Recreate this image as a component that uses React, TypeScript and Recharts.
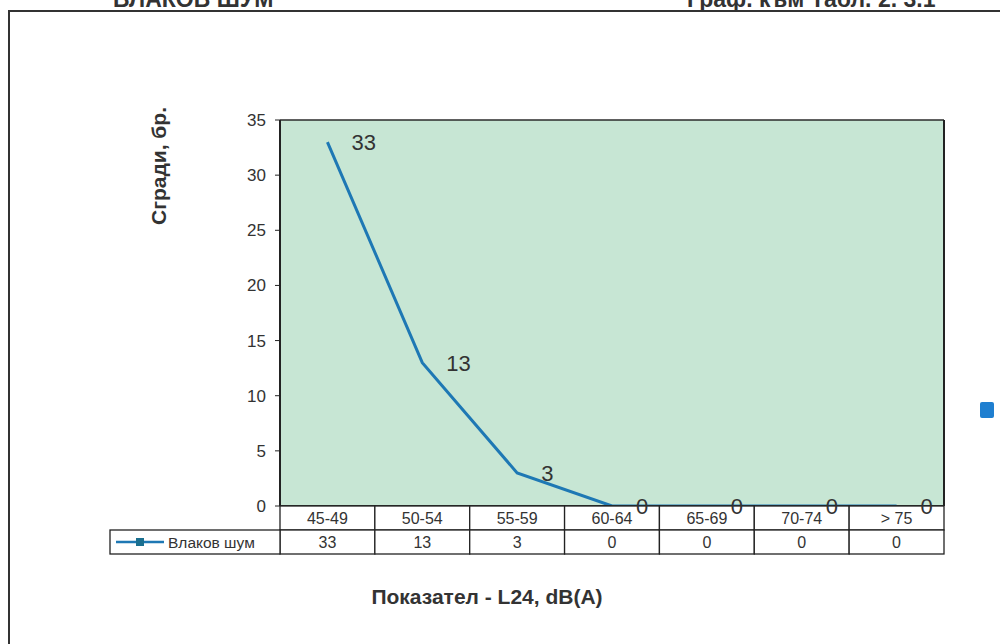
import React from "react";
import {
  LineChart,
  Line,
  XAxis,
  YAxis,
  CartesianGrid,
  LabelList,
} from "recharts";

const categories = ["45-49", "50-54", "55-59", "60-64", "65-69", "70-74", "> 75"];
const trainNoise = [33, 13, 3, 0, 0, 0, 0];
const yTicks = [0, 5, 10, 15, 20, 25, 30, 35];
const seriesName = "Влаков шум";
const yTitle = "Сгради, бр.";
const xTitle = "Показател - L24, dB(A)";
const headerLeft = "ВЛАКОВ ШУМ";
const headerRight = "Граф. към Табл. 2. 3.1";

const data = categories.map((c, i) => ({ cat: c, v: trainNoise[i] }));

const W = 1000;
const H = 644;
const PLOT_LEFT = 280;
const PLOT_RIGHT = 944;
const PLOT_TOP = 120;
const PLOT_BOTTOM = 506;
const Y_AXIS_W = 40;
const X_AXIS_H = 48;
const CELL_W = (PLOT_RIGHT - PLOT_LEFT) / categories.length;
const ROW_H = 24;
const LEGEND_LEFT = 110;
const FONT = "'Liberation Sans', Arial, sans-serif";
const LINE_COLOR = "#1e78b4";
const GRID = "#2b2b2b";
const TXT = "#333";

const TableTick = (props: any) => {
  const { x, y, payload, index } = props;
  const left = x - CELL_W / 2;
  const i = typeof index === "number" ? index : categories.indexOf(payload.value);
  return (
    <g>
      <rect x={left} y={y} width={CELL_W} height={ROW_H} fill="#fff" stroke="#222" strokeWidth={1.3} />
      <rect x={left} y={y + ROW_H} width={CELL_W} height={ROW_H} fill="#fff" stroke="#222" strokeWidth={1.3} />
      <text x={x} y={y + ROW_H / 2} dy="0.36em" textAnchor="middle" fontSize={16} fill={TXT} fontFamily={FONT}>
        {payload.value}
      </text>
      <text x={x} y={y + ROW_H * 1.5} dy="0.36em" textAnchor="middle" fontSize={16} fill={TXT} fontFamily={FONT}>
        {trainNoise[i]}
      </text>
      {i === 0 && (
        <g>
          <rect
            x={LEGEND_LEFT}
            y={y + ROW_H}
            width={left - LEGEND_LEFT}
            height={ROW_H}
            fill="#fff"
            stroke="#222"
            strokeWidth={1.3}
          />
          <line x1={LEGEND_LEFT + 6} x2={LEGEND_LEFT + 54} y1={y + ROW_H * 1.5} y2={y + ROW_H * 1.5} stroke={LINE_COLOR} strokeWidth={2.5} />
          <rect x={LEGEND_LEFT + 26} y={y + ROW_H * 1.5 - 4} width={8} height={8} fill="#1a6f8f" />
          <text x={LEGEND_LEFT + 58} y={y + ROW_H * 1.5} dy="0.36em" fontSize={15.5} fill={TXT} fontFamily={FONT}>
            {seriesName}
          </text>
        </g>
      )}
    </g>
  );
};

const ValueLabel = (props: any) => {
  const { x, y, value } = props;
  return (
    <text x={x + 24} y={y} dy="0.36em" fontSize={22} fill={TXT} fontFamily={FONT}>
      {value}
    </text>
  );
};

export default function App() {
  return (
    <div style={{ position: "absolute", left: 0, top: 0, width: W, height: H, background: "#fff", overflow: "hidden", fontFamily: FONT }}>
      <div style={{ position: "absolute", left: 8, top: 10, width: W, height: H, borderLeft: "2px solid #333", borderTop: "2px solid #333" }} />
      <div style={{ position: "absolute", left: 113, top: -10, fontSize: 23, lineHeight: "18px", fontWeight: "bold", color: TXT, whiteSpace: "nowrap" }}>
        {headerLeft}
      </div>
      <div style={{ position: "absolute", left: 687, top: -10, fontSize: 23, lineHeight: "18px", fontWeight: "bold", color: TXT, whiteSpace: "nowrap" }}>
        {headerRight}
      </div>
      <div style={{ position: "absolute", left: 980, top: 402, width: 14, height: 16, borderRadius: 2, background: "#1f7fd0" }} />
      <div style={{ position: "absolute", left: 0, top: 0 }}>
        <LineChart
          width={W}
          height={H}
          data={data}
          margin={{ top: PLOT_TOP, left: PLOT_LEFT - Y_AXIS_W, right: W - PLOT_RIGHT - 1, bottom: H - PLOT_BOTTOM - X_AXIS_H }}
        >
          <CartesianGrid vertical={false} stroke={GRID} strokeWidth={1.5} fill="#c7e6d4" fillOpacity={1} />
          <XAxis
            dataKey="cat"
            padding={{ left: CELL_W / 2, right: CELL_W / 2 }}
            tick={<TableTick />}
            tickLine={false}
            tickSize={0}
            tickMargin={0}
            interval={0}
            height={X_AXIS_H}
            axisLine={{ stroke: "#222", strokeWidth: 1.5 }}
            label={{ value: xTitle, position: "insideBottom", offset: -50, dx: -125, fontSize: 21, fontWeight: "bold", fill: TXT, fontFamily: FONT }}
          />
          <YAxis
            yAxisId="l"
            domain={[0, 35]}
            ticks={yTicks}
            width={Y_AXIS_W}
            tickSize={5}
            tickMargin={9}
            tick={{ fontSize: 17, fill: TXT, fontFamily: FONT }}
            tickLine={{ stroke: "#222" }}
            axisLine={{ stroke: "#222", strokeWidth: 2 }}
            label={{ value: yTitle, angle: -90, position: "insideLeft", dx: -86, dy: -88, fontSize: 21, fontWeight: "bold", fill: TXT, fontFamily: FONT }}
          />
          <YAxis
            yAxisId="r"
            orientation="right"
            domain={[0, 35]}
            width={1}
            tick={false}
            tickLine={false}
            axisLine={{ stroke: "#222", strokeWidth: 2 }}
          />
          <Line
            yAxisId="l"
            dataKey="v"
            type="linear"
            stroke={LINE_COLOR}
            strokeWidth={3}
            dot={false}
            isAnimationActive={false}
          >
            <LabelList dataKey="v" content={<ValueLabel />} />
          </Line>
        </LineChart>
      </div>
    </div>
  );
}
